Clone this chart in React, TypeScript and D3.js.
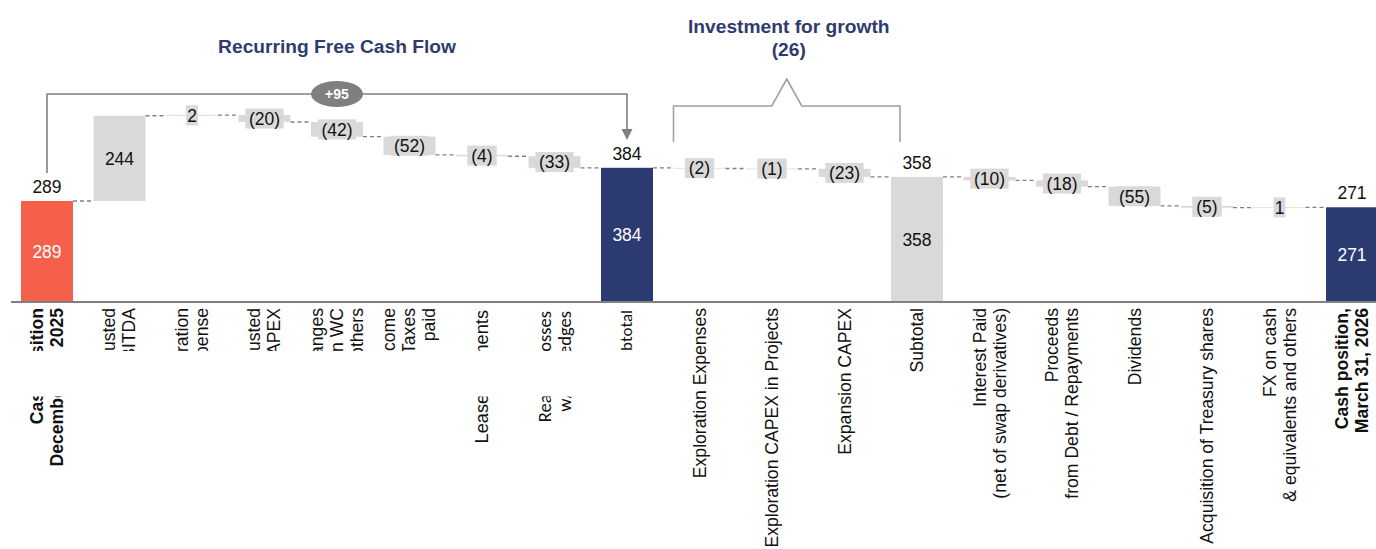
import React, { useRef, useEffect } from 'react';
import * as d3 from 'd3';

// Categories (line breaks = "\n"), values and bar kinds
const categories = [
  'Cash position\nDecember 31, 2025',
  'Adjusted\nEBITDA',
  'Exploration\nExpense',
  'Adjusted\nCAPEX',
  'Changes\nin WC\n& others',
  'Income\nTaxes\npaid',
  'Lease payments',
  'Realized losses\nw/ oil hedges',
  'Subtotal',
  'Exploration Expenses',
  'Exploration CAPEX in Projects',
  'Expansion CAPEX',
  'Subtotal',
  'Interest Paid\n(net of swap derivatives)',
  'Proceeds\nfrom Debt / Repayments',
  'Dividends',
  'Acquisition of Treasury shares',
  'FX on cash\n& equivalents and others',
  'Cash position,\nMarch 31, 2026',
];
const values = [289, 244, 2, -20, -42, -52, -4, -33, 384, -2, -1, -23, 358, -10, -18, -55, -5, 1, 271];
const barKinds = [
  'start', 'delta', 'delta', 'delta', 'delta', 'delta', 'delta', 'delta', 'subtotal',
  'delta', 'delta', 'delta', 'subtotalGray',
  'delta', 'delta', 'delta', 'delta', 'delta', 'end',
];
const groupTitles = ['Recurring Free Cash Flow', 'Investment for growth'];
const groupValues = ['+95', '(26)'];

const COLORS = {
  start: '#F5604B',
  subtotal: '#2C3A72',
  end: '#2C3A72',
  subtotalGray: '#D9D9D9',
  delta: '#D9D9D9',
};
const NAVY = '#2F3B6E';
const LINE = '#808080';
const FONT = '"Liberation Sans", Arial, sans-serif';
const ALT_FONT = 'Carlito, Lato, sans-serif';
// a few labels on the left look different in the source slide
const labelStyle = {
  6: { font: FONT, size: 18.2, top: 310 },
  7: { font: ALT_FONT, size: 18.5, top: 311 },
  8: { font: ALT_FONT, size: 17, top: 310 },
};

const fmt = (v: number) => (v < 0 ? `(${Math.abs(v)})` : `${v}`);

const WaterfallChart = ({ width, height }) => {
  const svgRef = useRef<SVGSVGElement | null>(null);

  useEffect(() => {
    const root = d3.select(svgRef.current);
    root.selectAll('*').remove();
    root.attr('width', width).attr('height', height);

    // compute bar extents
    let running = 0;
    const bars = values.map((v, i) => {
      const kind = barKinds[i];
      let y0, y1;
      if (kind === 'delta') {
        y0 = running;
        y1 = running + v;
        running += v;
      } else {
        y0 = 0;
        y1 = v;
        running = v;
      }
      return { i, v, kind, y0, y1, end: running };
    });

    const x = d3
      .scaleBand<number>()
      .domain(d3.range(categories.length))
      .range([21, 1378])
      .paddingInner(0.283)
      .paddingOuter(0);
    const bw = x.bandwidth();
    const cx = (i: number) => (x(i) as number) + bw / 2;

    const y = d3.scaleLinear().domain([0, 289]).range([302, 201]);

    const svg = root.append('g');

    // clip for the partially hidden labels on the left
    const defs = root.append('defs');
    const clip = defs.append('clipPath').attr('id', 'leftLabelClip');
    clip.append('rect').attr('x', 0).attr('y', 300).attr('width', 665).attr('height', 51);
    clip.append('rect').attr('x', 0).attr('y', 396.5).attr('width', 665).attr('height', 160);

    // connectors
    bars.slice(0, -1).forEach((b, k) => {
      const yy = y(b.end);
      svg
        .append('line')
        .attr('x1', (x(k) as number) + bw)
        .attr('x2', x(k + 1) as number)
        .attr('y1', yy)
        .attr('y2', yy)
        .attr('stroke', LINE)
        .attr('stroke-width', 1.3)
        .attr('stroke-dasharray', '4,3');
    });

    // bars
    svg
      .selectAll('rect.bar')
      .data(bars)
      .enter()
      .append('rect')
      .attr('class', 'bar')
      .attr('x', (d) => x(d.i) as number)
      .attr('width', bw)
      .attr('y', (d) => y(Math.max(d.y0, d.y1)))
      .attr('height', (d) => Math.max(0.8, Math.abs(y(d.y0) - y(d.y1))))
      .attr('fill', (d) => COLORS[d.kind]);

    // baseline
    svg
      .append('line')
      .attr('x1', 11)
      .attr('x2', width)
      .attr('y1', y(0))
      .attr('y2', y(0))
      .attr('stroke', LINE)
      .attr('stroke-width', 2);

    // value labels
    bars.forEach((b) => {
      const mid = (y(b.y0) + y(b.y1)) / 2;
      if (b.kind === 'delta') {
        const label = fmt(b.v);
        const tw = label.length * 8.8 + 3;
        if (Math.abs(y(b.y0) - y(b.y1)) < 22) {
          svg
            .append('rect')
            .attr('x', cx(b.i) - tw / 2)
            .attr('y', mid - 10)
            .attr('width', tw)
            .attr('height', 20)
            .attr('fill', COLORS.delta);
        }
        svg
          .append('text')
          .attr('x', cx(b.i))
          .attr('y', mid)
          .attr('dy', '0.36em')
          .attr('text-anchor', 'middle')
          .attr('font-family', FONT)
          .attr('font-size', 17.5)
          .attr('fill', '#111')
          .text(label);
      } else {
        svg
          .append('text')
          .attr('x', cx(b.i))
          .attr('y', y(b.y1) - 8)
          .attr('text-anchor', 'middle')
          .attr('font-family', FONT)
          .attr('font-size', 17.5)
          .attr('fill', '#111')
          .text(fmt(b.v));
        svg
          .append('text')
          .attr('x', cx(b.i))
          .attr('y', mid)
          .attr('dy', '0.36em')
          .attr('text-anchor', 'middle')
          .attr('font-family', FONT)
          .attr('font-size', 17.5)
          .attr('fill', b.kind === 'subtotalGray' ? '#111' : '#fff')
          .text(fmt(b.v));
      }
    });

    // category labels (rotated)
    categories.forEach((c, i) => {
      const lines = c.split('\n');
      const bold = i === 0 || i === categories.length - 1;
      const st = labelStyle[i] || { font: FONT, size: 17.6, top: 308 };
      const g = svg
        .append('g')
        .attr('clip-path', i <= 8 ? 'url(#leftLabelClip)' : null)
        .append('g')
        .attr('transform', `translate(${cx(i)},${st.top}) rotate(-90)`);
      lines.forEach((ln, k) => {
        g.append('text')
          .attr('x', 0)
          .attr('y', (k - (lines.length - 1) / 2) * 20)
          .attr('dominant-baseline', 'central')
          .attr('text-anchor', 'end')
          .attr('font-family', st.font)
          .attr('font-size', st.size)
          .attr('font-weight', bold ? 'bold' : 'normal')
          .attr('fill', '#111')
          .text(ln);
      });
    });

    // Recurring Free Cash Flow bracket with arrow
    const xa = cx(0);
    const xb = cx(8);
    const topY = 94;
    svg
      .append('path')
      .attr('d', `M${xa},173 V${topY} H${xb} V130`)
      .attr('fill', 'none')
      .attr('stroke', LINE)
      .attr('stroke-width', 1.6);
    svg
      .append('path')
      .attr('d', `M${xb - 5.5},129 L${xb + 5.5},129 L${xb},140 Z`)
      .attr('fill', LINE);
    const xm = (xa + xb) / 2;
    svg
      .append('ellipse')
      .attr('cx', xm)
      .attr('cy', topY)
      .attr('rx', 26)
      .attr('ry', 13)
      .attr('fill', '#7F7F7F');
    svg
      .append('text')
      .attr('x', xm)
      .attr('y', topY)
      .attr('dy', '0.36em')
      .attr('text-anchor', 'middle')
      .attr('font-family', FONT)
      .attr('font-weight', 'bold')
      .attr('font-size', 14)
      .attr('fill', '#fff')
      .text(groupValues[0]);
    svg
      .append('text')
      .attr('x', xm)
      .attr('y', 53)
      .attr('text-anchor', 'middle')
      .attr('font-family', FONT)
      .attr('font-weight', 'bold')
      .attr('font-size', 19.2)
      .attr('fill', NAVY)
      .text(groupTitles[0]);

    // Investment for growth brace
    const bl = x(9) as number;
    const br = (x(12) as number) + 9;
    const bm = (bl + br) / 2;
    svg
      .append('path')
      .attr(
        'd',
        `M${bl},142 V106 H${bm - 15} L${bm},79 L${bm + 15},106 H${br} V142`
      )
      .attr('fill', 'none')
      .attr('stroke', '#A0A0A0')
      .attr('stroke-width', 1.6);
    svg
      .append('text')
      .attr('x', bm + 2)
      .attr('y', 33)
      .attr('text-anchor', 'middle')
      .attr('font-family', FONT)
      .attr('font-weight', 'bold')
      .attr('font-size', 19.2)
      .attr('fill', NAVY)
      .text(groupTitles[1]);
    svg
      .append('text')
      .attr('x', bm + 2)
      .attr('y', 56)
      .attr('text-anchor', 'middle')
      .attr('font-family', FONT)
      .attr('font-weight', 'bold')
      .attr('font-size', 19.2)
      .attr('fill', NAVY)
      .text(groupValues[1]);
  }, [width, height]);

  return <svg ref={svgRef} style={{ display: 'block' }}></svg>;
};

export default function App() {
  return (
    <div style={{ position: 'absolute', left: 0, top: 0, width: 1376, height: 549, overflow: 'hidden', background: '#fff' }}>
      <WaterfallChart width={1376} height={549} />
    </div>
  );
}
